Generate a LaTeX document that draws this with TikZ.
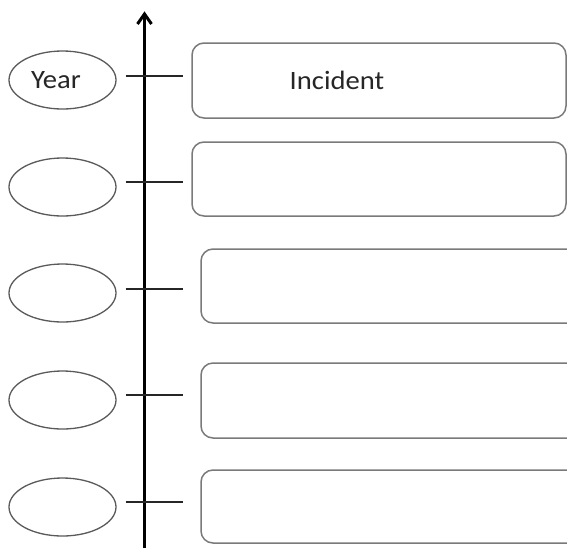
\documentclass[tikz,border=0pt]{standalone}
\usepackage{fontspec}
\setmainfont{Carlito}
\newfontfamily\lblfont[FakeStretch=1.08]{Carlito}
\usetikzlibrary{calc,shapes.geometric}
\definecolor{rimgray}{HTML}{5A5A5A}
\definecolor{boxgray}{HTML}{7A7A7A}
\tikzset{
  yearoval/.style={draw=rimgray, line width=1.3pt, ellipse, minimum width=107pt, minimum height=58pt, inner sep=0pt},
  eventbox/.style={draw=boxgray, line width=1.5pt, rounded corners=12pt, rectangle, inner sep=0pt},
  tick/.style={draw=black!85, line width=1.8pt},
  axis/.style={draw=black, line width=2.8pt},
  axishead/.style={draw=black, line width=3pt, line join=miter, line cap=butt},
  label/.style={font=\lblfont\fontsize{26.5}{30}\selectfont, text=black!85}
}
\begin{document}
\begin{tikzpicture}[x=1pt,y=-1pt]
\useasboundingbox (0,0) rectangle (567,547);
\fill[white] (0,0) rectangle (567,547);

% time axis with an open chevron head
\coordinate (axbot) at (144.5,548);
\coordinate (axtop) at (144.5,14);
\draw[axis] (axbot) -- (axtop);
\draw[axishead] ($(axtop)+(-7,10)$) -- (axtop) -- ($(axtop)+(7,10)$);

% year ovals
\node[yearoval] (y1) at (62.5,80) {};
\node[yearoval] (y2) at (62.5,187) {};
\node[yearoval] (y3) at (62.5,293) {};
\node[yearoval] (y4) at (62.5,400) {};
\node[yearoval] (y5) at (62.5,507) {};
\node[label] (yt) at (56,80) {Year};

% incident boxes
\node[eventbox, minimum width=374pt, minimum height=75pt] (b1) at (379,80.5) {};
\node[eventbox, minimum width=374pt, minimum height=74pt] (b2) at (379,179) {};
\node[eventbox, minimum width=379pt, minimum height=74pt] (b3) at (390.5,286) {};
\node[eventbox, minimum width=379pt, minimum height=75pt] (b4) at (390.5,400.5) {};
\node[eventbox, minimum width=379pt, minimum height=73pt] (b5) at (390.5,506.5) {};
\node[label] (it) at (337,80) {Incident};

% ticks across the axis
\draw[tick] ($(y1.east)+(9,-4)$) -- ++(57,0);
\draw[tick] ($(y2.east)+(9,-5)$) -- ++(57,0);
\draw[tick] ($(y3.east)+(9,-4)$) -- ++(57,0);
\draw[tick] ($(y4.east)+(9,-5)$) -- ++(57,0);
\draw[tick] ($(y5.east)+(9,-5)$) -- ++(57,0);
\end{tikzpicture}
\end{document}
